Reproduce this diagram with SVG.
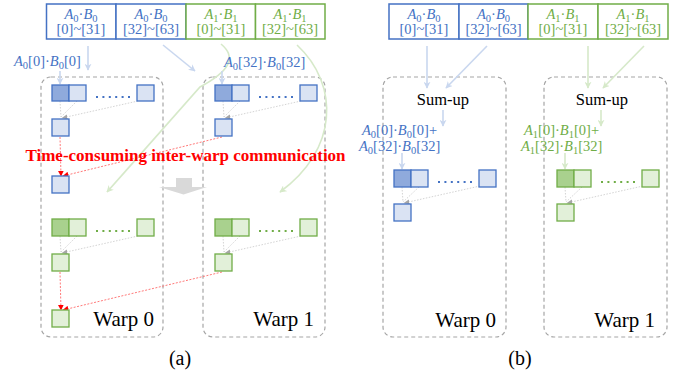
<svg xmlns="http://www.w3.org/2000/svg" width="686" height="373" viewBox="0 0 686 373">
  <defs>
    <marker id="hB" viewBox="0 0 10 10" refX="9" refY="5" markerWidth="7" markerHeight="7" markerUnits="userSpaceOnUse" orient="auto">
      <path d="M0,0 L10,5 L0,10 L3,5 Z" fill="#C9D7EF"/>
    </marker>
    <marker id="hG" viewBox="0 0 10 10" refX="9" refY="5" markerWidth="7" markerHeight="7" markerUnits="userSpaceOnUse" orient="auto">
      <path d="M0,0 L10,5 L0,10 L3,5 Z" fill="#D6E9C9"/>
    </marker>
    <marker id="hR" viewBox="0 0 10 10" refX="9" refY="5" markerWidth="6" markerHeight="6" markerUnits="userSpaceOnUse" orient="auto">
      <path d="M0,0 L10,5 L0,10 Z" fill="#FF0000"/>
    </marker>
    <marker id="hK" viewBox="0 0 10 10" refX="9" refY="5" markerWidth="6" markerHeight="6" markerUnits="userSpaceOnUse" orient="auto">
      <path d="M0,1 L10,5 L0,9 Z" fill="#A6A6A6"/>
    </marker>
  </defs>
  <style>
    text{font-family:"Liberation Serif","Times New Roman",serif}
    .bt{fill:#4472C4;font-size:14.5px}
    .gt{fill:#70AD47;font-size:14.5px}
    .i{font-style:italic}
    .sb{font-size:10.5px}
    .cellB{fill:#fff;stroke:#4472C4;stroke-width:1.5}
    .cellG{fill:#fff;stroke:#70AD47;stroke-width:1.5}
    .warp{fill:none;stroke:#A6A6A6;stroke-width:1.2;stroke-dasharray:4 3}
    .bd{fill:#8FAADC;stroke:#4472C4;stroke-width:1.3}
    .bl{fill:#DAE3F3;stroke:#4472C4;stroke-width:1.3}
    .gd{fill:#A9D18E;stroke:#70AD47;stroke-width:1.3}
    .gl{fill:#E2F0D9;stroke:#70AD47;stroke-width:1.3}
    .dotB{stroke:#4472C4;stroke-width:2.2;stroke-dasharray:2 4.4;fill:none}
    .dotG{stroke:#70AD47;stroke-width:2.2;stroke-dasharray:2 4.4;fill:none}
    .aB{stroke:#C9D7EF;stroke-width:1.6;fill:none;marker-end:url(#hB)}
    .aG{stroke:#D6E9C9;stroke-width:1.6;fill:none;marker-end:url(#hG)}
    .gr{stroke:#D4D4D4;stroke-width:1;stroke-dasharray:1.5 1.5;fill:none}
    .grA{stroke:#D4D4D4;stroke-width:1;stroke-dasharray:1.5 1.5;fill:none;marker-end:url(#hK)}
    .rd{stroke:#FF7A7A;stroke-width:1;stroke-dasharray:2 1.5;fill:none;marker-end:url(#hR)}
    .wl{font-size:21px;fill:#000}
    .cap{font-size:20px;fill:#000}
    .sum{font-size:16.5px;fill:#000}
  </style>

  <!-- ===== (a) ===== -->
  <!-- warp frames -->
  <g id="a-warp0-frame"><rect class="warp" x="41" y="77" width="122" height="260" rx="10"/></g>
  <g id="a-warp1-frame"><rect class="warp" x="203" y="77" width="122" height="260" rx="10"/></g>

  <!-- connectors -->
  <g id="connectors-a">
    <line class="aB" x1="88" y1="46" x2="88" y2="70"/>
    <line class="aB" x1="163" y1="45" x2="195" y2="71"/>
    <path class="aG" d="M221,44 C238,58 228,72 200,87 C175,115 140,155 107,192"/>
    <path class="aG" d="M297,45 C340,85 338,150 280,192"/>
    <line class="aB" x1="60" y1="71" x2="60" y2="84"/>
    <line class="aB" x1="222" y1="71" x2="222" y2="84"/>
    <!-- reductions inside warps -->
    <line class="gr" x1="60" y1="101" x2="61" y2="117"/>
    <line class="gr" x1="77" y1="101" x2="61" y2="117"/>
    <line class="grA" x1="138" y1="101" x2="62" y2="118"/>
    <line class="gr" x1="223" y1="101" x2="224" y2="117"/>
    <line class="gr" x1="240" y1="101" x2="224" y2="117"/>
    <line class="grA" x1="301" y1="101" x2="225" y2="118"/>
    <line class="gr" x1="60" y1="236" x2="61" y2="252"/>
    <line class="gr" x1="77" y1="236" x2="61" y2="252"/>
    <line class="grA" x1="138" y1="236" x2="62" y2="253"/>
    <line class="gr" x1="223" y1="236" x2="224" y2="252"/>
    <line class="gr" x1="240" y1="236" x2="224" y2="252"/>
    <line class="grA" x1="301" y1="236" x2="225" y2="253"/>
    <!-- inter-warp communication -->
    <line class="rd" x1="60" y1="137" x2="61" y2="176"/>
    <line class="rd" x1="222" y1="137" x2="63" y2="176"/>
    <line class="rd" x1="60" y1="272" x2="61" y2="310"/>
    <line class="rd" x1="222" y1="272" x2="63" y2="310"/>
  </g>

  <!-- input buffer (a) -->
  <g id="a-buffer">
    <rect class="cellB" x="46.5" y="4" width="69.5" height="35"/>
    <rect class="cellB" x="116" y="4" width="70" height="35"/>
    <rect class="cellG" x="186" y="4" width="69.5" height="35"/>
    <rect class="cellG" x="255.5" y="4" width="69.5" height="35"/>
    <text class="bt" x="81" y="19" text-anchor="middle"><tspan class="i">A</tspan><tspan class="sb" dy="3">0</tspan><tspan dy="-3">·</tspan><tspan class="i">B</tspan><tspan class="sb" dy="3">0</tspan></text>
    <text class="bt" x="81" y="34" text-anchor="middle">[0]~[31]</text>
    <text class="bt" x="151" y="19" text-anchor="middle"><tspan class="i">A</tspan><tspan class="sb" dy="3">0</tspan><tspan dy="-3">·</tspan><tspan class="i">B</tspan><tspan class="sb" dy="3">0</tspan></text>
    <text class="bt" x="151" y="34" text-anchor="middle">[32]~[63]</text>
    <text class="gt" x="221" y="19" text-anchor="middle"><tspan class="i">A</tspan><tspan class="sb" dy="3">1</tspan><tspan dy="-3">·</tspan><tspan class="i">B</tspan><tspan class="sb" dy="3">1</tspan></text>
    <text class="gt" x="221" y="34" text-anchor="middle">[0]~[31]</text>
    <text class="gt" x="290" y="19" text-anchor="middle"><tspan class="i">A</tspan><tspan class="sb" dy="3">1</tspan><tspan dy="-3">·</tspan><tspan class="i">B</tspan><tspan class="sb" dy="3">1</tspan></text>
    <text class="gt" x="290" y="34" text-anchor="middle">[32]~[63]</text>
  </g>

  <g id="a-labels">
    <text class="bt" x="14" y="66"><tspan class="i">A</tspan><tspan class="sb" dy="3">0</tspan><tspan dy="-3">[0]·</tspan><tspan class="i">B</tspan><tspan class="sb" dy="3">0</tspan><tspan dy="-3">[0]</tspan></text>
    <text class="bt" x="224" y="67"><tspan class="i">A</tspan><tspan class="sb" dy="3">0</tspan><tspan dy="-3">[32]·</tspan><tspan class="i">B</tspan><tspan class="sb" dy="3">0</tspan><tspan dy="-3">[32]</tspan></text>
  </g>

  <!-- warp 0 lanes (a) -->
  <g id="a-warp0-blue">
    <rect class="bd" x="52" y="85" width="17" height="16"/>
    <rect class="bl" x="69" y="85" width="17" height="16"/>
    <line class="dotB" x1="96" y1="97" x2="130" y2="97"/>
    <rect class="bl" x="137" y="85" width="17" height="16"/>
    <rect class="bl" x="52" y="119" width="17" height="17"/>
    <rect class="bl" x="52" y="176" width="17" height="17"/>
  </g>
  <g id="a-warp0-green">
    <rect class="gd" x="52" y="219" width="17" height="17"/>
    <rect class="gl" x="69" y="219" width="17" height="17"/>
    <line class="dotG" x1="96" y1="231" x2="130" y2="231"/>
    <rect class="gl" x="137" y="219" width="17" height="17"/>
    <rect class="gl" x="52" y="254" width="17" height="17"/>
    <rect class="gl" x="52" y="310" width="17" height="17"/>
  </g>
  <g id="a-warp1-blue">
    <rect class="bd" x="215" y="85" width="17" height="16"/>
    <rect class="bl" x="232" y="85" width="17" height="16"/>
    <line class="dotB" x1="259" y1="97" x2="293" y2="97"/>
    <rect class="bl" x="300" y="85" width="17" height="16"/>
    <rect class="bl" x="215" y="119" width="17" height="17"/>
  </g>
  <g id="a-warp1-green">
    <rect class="gd" x="215" y="219" width="17" height="17"/>
    <rect class="gl" x="232" y="219" width="17" height="17"/>
    <line class="dotG" x1="259" y1="231" x2="293" y2="231"/>
    <rect class="gl" x="300" y="219" width="17" height="17"/>
    <rect class="gl" x="215" y="254" width="17" height="17"/>
  </g>

  <g id="a-step-arrow">
    <path d="M176,178 H192 V187 H207 L183.5,194.5 L159,187 H176 Z" fill="#D9D9D9"/>
  </g>

  <g id="a-note">
    <text x="185.5" y="161" text-anchor="middle" font-size="17" font-weight="bold" fill="#FF0000">Time-consuming inter-warp communication</text>
  </g>

  <text class="wl" x="154" y="326" text-anchor="end">Warp 0</text>
  <text class="wl" x="314" y="326" text-anchor="end">Warp 1</text>
  <text class="cap" x="180" y="365" text-anchor="middle">(a)</text>

  <!-- ===== (b) ===== -->
  <g id="b-warp0-frame"><rect class="warp" x="383" y="77" width="123" height="260" rx="10"/></g>
  <g id="b-warp1-frame"><rect class="warp" x="544" y="77" width="123" height="260" rx="10"/></g>

  <g id="connectors-b">
    <line class="aB" x1="427" y1="46" x2="427" y2="88"/>
    <line class="aB" x1="487" y1="46" x2="446" y2="88"/>
    <line class="aG" x1="588" y1="46" x2="588" y2="88"/>
    <line class="aG" x1="644" y1="46" x2="603" y2="88"/>
    <line class="aB" x1="443" y1="110" x2="443" y2="126"/>
    <line class="aG" x1="601" y1="110" x2="601" y2="126"/>
    <line class="aB" x1="402" y1="153" x2="402" y2="169"/>
    <line class="aG" x1="565" y1="153" x2="565" y2="169"/>
    <line class="gr" x1="402" y1="187" x2="403" y2="202"/>
    <line class="gr" x1="419" y1="187" x2="403" y2="202"/>
    <line class="grA" x1="480" y1="186" x2="404" y2="203"/>
    <line class="gr" x1="565" y1="187" x2="566" y2="202"/>
    <line class="gr" x1="582" y1="187" x2="566" y2="202"/>
    <line class="grA" x1="643" y1="186" x2="567" y2="203"/>
  </g>

  <g id="b-buffer">
    <rect class="cellB" x="389" y="4" width="70" height="35"/>
    <rect class="cellB" x="459" y="4" width="69" height="35"/>
    <rect class="cellG" x="528" y="4" width="70" height="35"/>
    <rect class="cellG" x="598" y="4" width="70" height="35"/>
    <text class="bt" x="424" y="19" text-anchor="middle"><tspan class="i">A</tspan><tspan class="sb" dy="3">0</tspan><tspan dy="-3">·</tspan><tspan class="i">B</tspan><tspan class="sb" dy="3">0</tspan></text>
    <text class="bt" x="424" y="34" text-anchor="middle">[0]~[31]</text>
    <text class="bt" x="493.5" y="19" text-anchor="middle"><tspan class="i">A</tspan><tspan class="sb" dy="3">0</tspan><tspan dy="-3">·</tspan><tspan class="i">B</tspan><tspan class="sb" dy="3">0</tspan></text>
    <text class="bt" x="493.5" y="34" text-anchor="middle">[32]~[63]</text>
    <text class="gt" x="563" y="19" text-anchor="middle"><tspan class="i">A</tspan><tspan class="sb" dy="3">1</tspan><tspan dy="-3">·</tspan><tspan class="i">B</tspan><tspan class="sb" dy="3">1</tspan></text>
    <text class="gt" x="563" y="34" text-anchor="middle">[0]~[31]</text>
    <text class="gt" x="633" y="19" text-anchor="middle"><tspan class="i">A</tspan><tspan class="sb" dy="3">1</tspan><tspan dy="-3">·</tspan><tspan class="i">B</tspan><tspan class="sb" dy="3">1</tspan></text>
    <text class="gt" x="633" y="34" text-anchor="middle">[32]~[63]</text>
  </g>

  <g id="b-sum0">
    <text class="sum" x="443" y="105" text-anchor="middle">Sum-up</text>
  </g>
  <g id="b-sum1">
    <text class="sum" x="602" y="105" text-anchor="middle">Sum-up</text>
  </g>

  <g id="b-labels">
    <text class="bt" x="362" y="135"><tspan class="i">A</tspan><tspan class="sb" dy="3">0</tspan><tspan dy="-3">[0]·</tspan><tspan class="i">B</tspan><tspan class="sb" dy="3">0</tspan><tspan dy="-3">[0]+</tspan></text>
    <text class="bt" x="359" y="151"><tspan class="i">A</tspan><tspan class="sb" dy="3">0</tspan><tspan dy="-3">[32]·</tspan><tspan class="i">B</tspan><tspan class="sb" dy="3">0</tspan><tspan dy="-3">[32]</tspan></text>
    <text class="gt" x="524" y="135"><tspan class="i">A</tspan><tspan class="sb" dy="3">1</tspan><tspan dy="-3">[0]·</tspan><tspan class="i">B</tspan><tspan class="sb" dy="3">1</tspan><tspan dy="-3">[0]+</tspan></text>
    <text class="gt" x="521" y="151"><tspan class="i">A</tspan><tspan class="sb" dy="3">1</tspan><tspan dy="-3">[32]·</tspan><tspan class="i">B</tspan><tspan class="sb" dy="3">1</tspan><tspan dy="-3">[32]</tspan></text>
  </g>

  <g id="b-warp0-blue">
    <rect class="bd" x="394" y="170" width="17" height="17"/>
    <rect class="bl" x="411" y="170" width="17" height="17"/>
    <line class="dotB" x1="438" y1="182" x2="472" y2="182"/>
    <rect class="bl" x="479" y="170" width="17" height="17"/>
    <rect class="bl" x="394" y="204" width="17" height="17"/>
  </g>
  <g id="b-warp1-green">
    <rect class="gd" x="557" y="170" width="17" height="17"/>
    <rect class="gl" x="574" y="170" width="17" height="17"/>
    <line class="dotG" x1="601" y1="182" x2="635" y2="182"/>
    <rect class="gl" x="642" y="170" width="17" height="17"/>
    <rect class="gl" x="557" y="204" width="17" height="17"/>
  </g>

  <text class="wl" x="496" y="327" text-anchor="end">Warp 0</text>
  <text class="wl" x="655" y="327" text-anchor="end">Warp 1</text>
  <text class="cap" x="520" y="365" text-anchor="middle">(b)</text>
</svg>
